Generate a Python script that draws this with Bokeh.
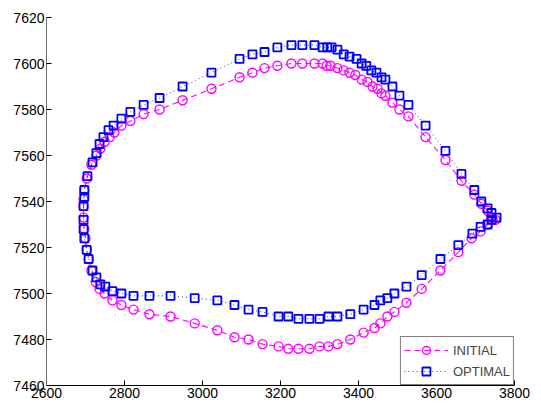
from bokeh.plotting import figure
from bokeh.models import FixedTicker, Range1d
from bokeh.embed import file_html
from bokeh.resources import INLINE

# INITIAL design (magenta circles, dashed)
init_x = [3751, 3741, 3731, 3715, 3697, 3664, 3623, 3572, 3528, 3505, 3487, 3469, 3459, 3449,
          3436, 3423, 3408, 3392, 3377, 3362, 3346, 3328, 3318, 3308, 3287, 3256, 3228, 3192,
          3159, 3128, 3095, 3023, 2949, 2890, 2849, 2815, 2792, 2774, 2762, 2749, 2738, 2728,
          2715, 2703, 2697, 2695, 2695, 2695, 2697, 2700, 2703, 2708, 2715, 2726, 2736, 2749,
          2769, 2792, 2823, 2864, 2918, 2980, 3038, 3082, 3118, 3154, 3195, 3220, 3246, 3274,
          3300, 3323, 3346, 3379, 3413, 3441, 3456, 3474, 3492, 3523, 3562, 3610, 3656, 3690,
          3713, 3731, 3744]
init_y = [7532, 7533, 7536, 7539, 7543, 7549, 7558, 7568, 7577, 7580, 7583, 7586, 7587, 7589,
          7590, 7592, 7593, 7595, 7596, 7597, 7598, 7599, 7599, 7600, 7600, 7600, 7600, 7599,
          7598, 7596, 7594, 7589, 7584, 7580, 7578, 7575, 7573, 7570, 7568, 7566, 7563, 7560,
          7556, 7550, 7545, 7541, 7538, 7533, 7528, 7524, 7519, 7515, 7510, 7505, 7502, 7500,
          7497, 7495, 7493, 7491, 7490, 7487, 7484, 7481, 7480, 7478, 7477, 7476, 7476, 7476,
          7477, 7477, 7478, 7480, 7483, 7485, 7487, 7490, 7492, 7496, 7502, 7510, 7518, 7524,
          7527, 7530, 7532]

# OPTIMAL design (blue squares, dotted)
opt_x = [3754, 3741, 3731, 3715, 3697, 3664, 3623, 3572, 3528, 3505, 3487, 3469, 3459, 3446,
         3433, 3420, 3408, 3395, 3377, 3362, 3346, 3331, 3320, 3308, 3287, 3256, 3228, 3192,
         3159, 3128, 3095, 3023, 2949, 2890, 2849, 2815, 2792, 2772, 2759, 2746, 2736, 2728,
         2718, 2705, 2697, 2697, 2695, 2695, 2695, 2697, 2703, 2708, 2718, 2728, 2738, 2751,
         2769, 2792, 2823, 2864, 2918, 2980, 3038, 3082, 3118, 3154, 3195, 3220, 3246, 3274,
         3300, 3323, 3346, 3379, 3413, 3441, 3456, 3474, 3492, 3523, 3562, 3610, 3656, 3692,
         3713, 3731, 3741]
opt_y = [7533, 7535, 7537, 7540, 7545, 7552, 7562, 7573, 7582, 7586, 7590, 7593, 7594, 7596,
         7597, 7599, 7600, 7602, 7603, 7604, 7606, 7607, 7607, 7607, 7608, 7608, 7608, 7607,
         7605, 7604, 7602, 7596, 7590, 7585, 7582, 7579, 7576, 7573, 7571, 7568, 7565, 7561,
         7557, 7551, 7545, 7542, 7538, 7532, 7528, 7524, 7519, 7515, 7510, 7507, 7504, 7503,
         7501, 7500, 7499, 7499, 7499, 7498, 7497, 7495, 7493, 7492, 7490, 7490, 7489, 7489,
         7489, 7490, 7490, 7491, 7493, 7495, 7497, 7498, 7500, 7503, 7508, 7515, 7521, 7526,
         7529, 7530, 7532]

x_ticks = [2600, 2800, 3000, 3200, 3400, 3600, 3800]
y_ticks = [7460, 7480, 7500, 7520, 7540, 7560, 7580, 7600, 7620]

p = figure(width=533, height=406, output_backend="svg", toolbar_location=None,
           x_range=Range1d(2600, 3800), y_range=Range1d(7460, 7620),
           min_border_left=46, min_border_right=19, min_border_top=17, min_border_bottom=21)
p.outline_line_color = None
p.xgrid.visible = False
p.ygrid.visible = False

MAG = "#FF00FF"
BLU = "#0000FF"

p.line(init_x + init_x[:1], init_y + init_y[:1], line_color=MAG, line_width=1.1,
       line_dash="6 4", legend_label="INITIAL")
p.scatter(init_x, init_y, marker="circle", size=9, fill_color=None, line_color=MAG,
          line_width=1.4, legend_label="INITIAL")

p.line(opt_x + opt_x[:1], opt_y + opt_y[:1], line_color=BLU, line_width=1,
       line_dash="1 3", line_alpha=0.8, legend_label="OPTIMAL")
p.scatter(opt_x, opt_y, marker="square", size=8, fill_color=None, line_color=BLU,
          line_width=1.8, legend_label="OPTIMAL")

for ax, ticks in ((p.xaxis[0], x_ticks), (p.yaxis[0], y_ticks)):
    ax.ticker = FixedTicker(ticks=ticks)
    ax.minor_tick_line_color = None
    ax.major_tick_in = 5
    ax.major_tick_out = 0
    ax.major_label_text_font = "Liberation Sans"
    ax.major_label_text_font_size = "14px"
    ax.major_label_text_color = "#000000"
    ax.major_label_standoff = 2
    ax.axis_line_width = 1
p.xaxis.axis_line_color = "#000000"
p.yaxis.axis_line_color = "#707070"

lg = p.legend[0]
lg.location = "bottom_right"
lg.margin = 0
lg.padding = 3
lg.spacing = 1
lg.glyph_width = 44
lg.glyph_height = 20
lg.label_height = 20
lg.label_standoff = 5
lg.label_text_font = "Liberation Sans"
lg.label_text_font_size = "13px"
lg.border_line_color = "#000000"
lg.border_line_width = 1
lg.background_fill_color = "#FFFFFF"
lg.background_fill_alpha = 1

open("out.html", "w").write(file_html(p, INLINE))
